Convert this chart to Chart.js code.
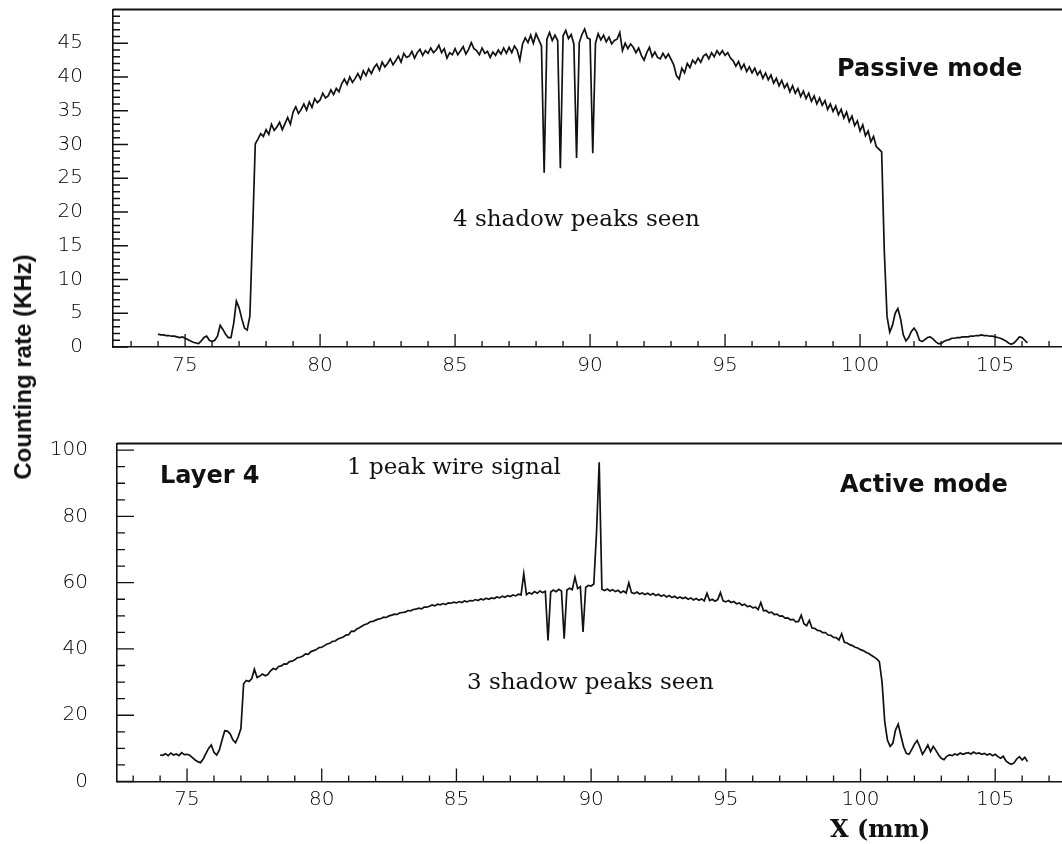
<!DOCTYPE html>
<html>
<head>
<meta charset="utf-8">
<title>Counting rate vs X</title>
<script src="https://cdn.jsdelivr.net/npm/chart.js@4.4.1/dist/chart.umd.min.js"></script>
<style>
  html, body { margin: 0; padding: 0; background: #fff; }
  #page { position: relative; width: 1062px; height: 844px; overflow: hidden; background: #fff; }
  .panel { position: absolute; left: 0; width: 1062px; }
  #topPanel { top: 0; height: 395px; }
  #bottomPanel { top: 430px; height: 414px; }
  .note { position: absolute; white-space: nowrap; line-height: 1; color: #111; z-index: 2; }
  .mode { font-family: "DejaVu Sans", sans-serif; font-weight: bold; font-size: 24px; }
  .serif { font-family: "DejaVu Serif", serif; font-size: 23px; }
  .xtitle { font-family: "DejaVu Serif", serif; font-weight: bold; font-size: 24px; }
  .ytitle { font-family: "Liberation Sans", Arial, sans-serif; font-weight: bold; font-size: 24px;
            transform: translate(-50%, -50%) rotate(-90deg); }
</style>
</head>
<body>
<div id="page">
  <div class="panel" id="topPanel"><canvas id="passiveChart"></canvas></div>
  <div class="panel" id="bottomPanel"><canvas id="activeChart"></canvas></div>

  <div class="note ytitle" style="left:23px; top:367px;">Counting rate (KHz)</div>
  <div class="note mode" style="left:837px; top:56px;">Passive mode</div>
  <div class="note serif" style="left:453px; top:207px;">4 shadow peaks seen</div>
  <div class="note mode" style="left:160px; top:463px;">Layer 4</div>
  <div class="note serif" style="left:347px; top:455px;">1 peak wire signal</div>
  <div class="note mode" style="left:840px; top:472px;">Active mode</div>
  <div class="note serif" style="left:467px; top:670px;">3 shadow peaks seen</div>
  <div class="note xtitle" style="left:830px; top:817px;">X (mm)</div>
</div>

<script>
// 1. DATA (X in mm, rate in kHz)
const xMm = [
  74.0,74.1,74.2,74.3,74.4,74.5,74.6,74.7,74.8,74.9,
  75.0,75.1,75.2,75.3,75.4,75.5,75.6,75.7,75.8,75.9,
  76.0,76.1,76.2,76.3,76.4,76.5,76.6,76.7,76.8,76.9,
  77.0,77.1,77.2,77.3,77.4,77.5,77.6,77.7,77.8,77.9,
  78.0,78.1,78.2,78.3,78.4,78.5,78.6,78.7,78.8,78.9,
  79.0,79.1,79.2,79.3,79.4,79.5,79.6,79.7,79.8,79.9,
  80.0,80.1,80.2,80.3,80.4,80.5,80.6,80.7,80.8,80.9,
  81.0,81.1,81.2,81.3,81.4,81.5,81.6,81.7,81.8,81.9,
  82.0,82.1,82.2,82.3,82.4,82.5,82.6,82.7,82.8,82.9,
  83.0,83.1,83.2,83.3,83.4,83.5,83.6,83.7,83.8,83.9,
  84.0,84.1,84.2,84.3,84.4,84.5,84.6,84.7,84.8,84.9,
  85.0,85.1,85.2,85.3,85.4,85.5,85.6,85.7,85.8,85.9,
  86.0,86.1,86.2,86.3,86.4,86.5,86.6,86.7,86.8,86.9,
  87.0,87.1,87.2,87.3,87.4,87.5,87.6,87.7,87.8,87.9,
  88.0,88.1,88.2,88.3,88.4,88.5,88.6,88.7,88.8,88.9,
  89.0,89.1,89.2,89.3,89.4,89.5,89.6,89.7,89.8,89.9,
  90.0,90.1,90.2,90.3,90.4,90.5,90.6,90.7,90.8,90.9,
  91.0,91.1,91.2,91.3,91.4,91.5,91.6,91.7,91.8,91.9,
  92.0,92.1,92.2,92.3,92.4,92.5,92.6,92.7,92.8,92.9,
  93.0,93.1,93.2,93.3,93.4,93.5,93.6,93.7,93.8,93.9,
  94.0,94.1,94.2,94.3,94.4,94.5,94.6,94.7,94.8,94.9,
  95.0,95.1,95.2,95.3,95.4,95.5,95.6,95.7,95.8,95.9,
  96.0,96.1,96.2,96.3,96.4,96.5,96.6,96.7,96.8,96.9,
  97.0,97.1,97.2,97.3,97.4,97.5,97.6,97.7,97.8,97.9,
  98.0,98.1,98.2,98.3,98.4,98.5,98.6,98.7,98.8,98.9,
  99.0,99.1,99.2,99.3,99.4,99.5,99.6,99.7,99.8,99.9,
  100.0,100.1,100.2,100.3,100.4,100.5,100.6,100.7,100.8,100.9,
  101.0,101.1,101.2,101.3,101.4,101.5,101.6,101.7,101.8,101.9,
  102.0,102.1,102.2,102.3,102.4,102.5,102.6,102.7,102.8,102.9,
  103.0,103.1,103.2,103.3,103.4,103.5,103.6,103.7,103.8,103.9,
  104.0,104.1,104.2,104.3,104.4,104.5,104.6,104.7,104.8,104.9,
  105.0,105.1,105.2,105.3,105.4,105.5,105.6,105.7,105.8,105.9,
  106.0,106.1,106.2
];

// Passive mode: 4 shadow dips near 88.3 - 90.1 mm
const passiveRate = [
  1.9,1.8,1.8,1.7,1.7,1.6,1.6,1.5,1.4,1.5,
  1.3,1.1,0.9,0.7,0.6,0.5,0.9,1.4,1.6,1.0,
  0.8,1.0,1.6,3.2,2.6,1.9,1.4,1.4,3.5,6.8,
  5.8,4.2,2.8,2.5,4.6,17.0,30.1,30.8,31.6,31.2,
  32.2,31.5,33.0,32.1,32.6,33.3,32.2,33.1,34.0,33.0,
  34.8,35.6,34.6,35.2,36.0,35.1,36.3,35.5,36.8,36.2,
  36.6,37.6,36.9,37.2,38.1,37.4,38.3,37.8,39.0,39.7,
  38.9,40.0,39.2,39.8,40.5,39.7,40.9,40.2,41.2,40.5,
  41.4,41.9,41.0,42.2,41.5,42.0,42.7,41.8,42.4,43.1,
  42.2,43.5,42.9,43.1,43.8,42.8,43.6,44.1,43.2,43.9,
  43.5,44.3,43.6,44.0,44.7,43.6,44.2,42.8,43.6,43.3,
  44.2,43.3,43.9,44.5,43.4,44.1,45.1,44.2,43.9,43.3,
  44.3,43.5,43.8,42.9,43.7,43.2,44.0,43.4,44.3,43.5,
  44.4,43.6,44.6,44.0,42.5,44.9,45.8,45.1,46.2,45.0,
  46.4,45.5,44.6,25.8,45.6,46.6,45.4,46.2,45.4,26.5,
  46.1,46.9,45.7,46.3,44.9,28.0,45.1,46.3,47.1,45.8,
  45.6,28.7,45.0,46.4,45.5,46.2,45.2,45.9,44.9,45.4,
  45.6,46.6,43.9,45.0,44.2,44.9,44.4,43.6,44.3,43.2,
  42.5,43.6,44.4,43.0,43.7,42.9,42.7,43.5,42.8,43.4,
  42.6,41.8,40.2,39.7,41.3,40.6,42.0,41.4,42.5,42.0,
  42.8,42.2,43.1,43.4,42.7,43.6,43.0,43.9,43.3,43.9,
  43.2,43.6,42.8,42.4,41.6,42.3,41.2,41.9,40.8,41.5,
  40.6,41.3,40.3,40.9,39.8,40.6,39.6,40.3,39.1,39.8,
  38.7,39.5,38.4,39.0,37.8,38.7,37.6,38.3,37.1,37.9,
  36.8,37.6,36.4,37.2,36.0,36.9,35.8,36.5,35.2,36.0,
  34.9,35.7,34.4,35.2,33.9,34.8,33.4,34.2,32.8,33.5,
  32.0,32.9,31.3,32.0,30.4,31.2,29.7,29.3,28.9,14.0,
  4.5,2.2,3.2,5.0,5.7,4.2,1.8,0.9,1.4,2.3,
  2.8,2.2,1.0,0.8,1.1,1.4,1.5,1.2,0.8,0.5,
  0.5,0.8,1.0,1.1,1.3,1.3,1.4,1.4,1.5,1.5,
  1.5,1.6,1.6,1.7,1.7,1.8,1.7,1.7,1.6,1.6,
  1.5,1.4,1.3,1.1,0.9,0.6,0.4,0.6,1.0,1.5,
  1.4,1.0,0.6
];

// Active mode: 3 shadow dips + wire peak at 90.3 mm
const activeRate = [
  8.0,7.9,8.4,7.8,8.6,8.0,8.3,7.8,8.7,8.1,
  8.2,7.9,7.2,6.5,6.0,5.7,6.8,8.4,10.0,11.0,
  8.8,8.0,9.5,12.5,15.3,15.2,14.4,12.6,11.7,13.5,
  16.0,29.5,30.5,30.2,31.0,33.9,31.4,31.8,32.4,31.9,
  32.3,33.4,34.1,33.8,34.7,34.9,35.5,35.4,36.2,36.3,
  36.7,37.4,37.5,37.9,38.5,38.4,39.2,39.5,39.8,40.4,
  40.5,41.0,41.5,41.7,42.3,42.4,43.0,43.3,43.6,44.2,
  44.3,45.4,45.3,46.0,46.4,46.9,47.4,47.6,48.2,48.3,
  48.7,49.0,49.2,49.6,49.5,50.0,50.2,50.5,50.4,50.9,
  51.0,51.1,51.6,51.5,51.9,52.0,52.3,52.1,52.6,52.6,
  52.9,53.3,53.0,53.5,53.3,53.7,53.4,53.9,53.8,54.1,
  53.9,54.3,54.0,54.5,54.2,54.6,54.5,54.9,54.6,55.1,
  54.8,55.3,55.0,55.4,55.2,55.7,55.4,55.9,55.6,56.1,
  55.8,56.3,56.0,56.5,56.3,62.7,56.4,57.0,56.6,57.3,
  56.8,57.5,57.0,57.4,42.6,57.2,57.8,57.3,58.0,57.5,
  43.1,57.8,58.3,57.9,61.7,58.2,58.8,45.1,58.6,59.2,
  59.0,59.6,75.0,96.3,58.0,57.6,58.1,57.5,57.9,57.3,
  57.7,57.0,57.5,56.9,60.0,57.0,56.7,57.2,56.6,56.9,
  56.4,56.8,56.3,56.7,56.1,56.5,55.9,56.3,55.7,56.1,
  55.5,55.9,55.3,55.7,55.2,55.6,55.0,55.4,54.8,55.2,
  54.7,55.1,54.5,56.8,54.6,55.0,54.4,54.9,57.0,54.5,
  54.2,54.6,54.0,54.3,53.6,53.9,53.2,53.5,52.8,53.0,
  52.4,52.6,51.9,54.0,51.5,51.6,50.9,51.1,50.4,50.5,
  49.9,50.0,49.3,49.4,48.8,48.9,48.2,48.3,50.2,47.6,
  47.0,48.6,46.3,46.2,45.6,45.5,44.9,44.9,44.2,44.1,
  43.5,43.4,42.7,44.6,42.0,41.8,41.3,41.0,40.5,40.3,
  39.8,39.5,39.0,38.6,38.1,37.6,37.0,36.2,30.0,18.0,
  12.5,10.6,11.5,15.5,17.3,13.8,10.5,8.5,8.2,9.6,
  11.2,12.4,10.5,8.2,9.5,11.0,9.0,10.6,9.4,8.0,
  7.0,6.6,7.6,8.0,7.8,8.3,8.0,8.6,8.2,8.5,
  8.7,8.3,8.9,8.4,8.6,8.2,8.5,8.0,8.4,7.8,
  8.2,7.5,7.0,7.6,6.2,5.6,5.2,5.6,6.8,7.5,
  6.5,7.3,6.0
];

const xTickLabels = [75, 80, 85, 90, 95, 100, 105];
const passiveYLabels = [0, 5, 10, 15, 20, 25, 30, 35, 40, 45];
const activeYLabels = [0, 20, 40, 60, 80, 100];

// 2. INWARD TICKS + TOP FRAME LINE
const frameTicks = {
  id: 'frameTicks',
  afterDraw(chart, args, o) {
    const { ctx, chartArea: a, scales: { x, y } } = chart;
    ctx.save();
    ctx.strokeStyle = '#111';
    ctx.lineWidth = 1.3;
    ctx.beginPath();
    x.ticks.forEach(t => {
      const px = x.getPixelForValue(t.value);
      const len = t.value % 5 === 0 ? o.xMajor : o.xMinor;
      ctx.moveTo(px, a.bottom);
      ctx.lineTo(px, a.bottom - len);
    });
    y.ticks.forEach(t => {
      if (t.value >= y.max) return;
      const py = y.getPixelForValue(t.value);
      const len = t.value % o.yMajorStep === 0 ? o.yMajor : o.yMinor;
      ctx.moveTo(a.left, py);
      ctx.lineTo(a.left + len, py);
    });
    ctx.stroke();
    ctx.lineWidth = 1.8;
    ctx.beginPath();
    ctx.moveTo(a.left, a.top);
    ctx.lineTo(a.right, a.top);
    ctx.stroke();
    ctx.restore();
  }
};

const tickFont = { family: '"DejaVu Sans", sans-serif', size: 20, weight: 200 };

function panel(canvasId, rate, s) {
  return new Chart(document.getElementById(canvasId), {
    type: 'line',
    data: {
      datasets: [{
        data: xMm.map((x, i) => ({ x: x, y: rate[i] })),
        borderColor: '#111',
        borderWidth: 1.7,
        pointRadius: 0,
        tension: 0,
        fill: false
      }]
    },
    options: {
      responsive: true,
      maintainAspectRatio: false,
      animation: false,
      events: [],
      layout: { padding: { top: s.padTop, left: 0, right: 0, bottom: 0 } },
      plugins: { legend: { display: false }, tooltip: { enabled: false }, frameTicks: s.ticks },
      scales: {
        x: {
          type: 'linear', min: s.xMin, max: 107.48,
          afterFit: sc => { sc.height = s.xAxisHeight; sc.paddingLeft = 0; sc.paddingRight = 0; },
          grid: { display: false, drawTicks: false },
          border: { display: true, color: '#111', width: 1.6 },
          ticks: {
            stepSize: 1, autoSkip: false, maxRotation: 0, minRotation: 0, includeBounds: false,
            padding: s.xPad, color: '#000', font: tickFont,
            callback: v => xTickLabels.includes(v) ? String(v) : ''
          }
        },
        y: {
          type: 'linear', min: 0, max: s.yMax,
          afterFit: sc => { sc.width = s.yAxisWidth; sc.paddingTop = 0; sc.paddingBottom = 0; },
          grid: { display: false, drawTicks: false },
          border: { display: true, color: '#111', width: 1.6 },
          ticks: {
            stepSize: s.yStep, autoSkip: false, includeBounds: false,
            padding: s.yPad, color: '#000', font: tickFont,
            callback: v => s.yLabels.includes(v) ? String(v) : ''
          }
        }
      }
    },
    plugins: [frameTicks]
  });
}

// 3. THE TWO PANELS
panel('passiveChart', passiveRate, {
  padTop: 9.5, xAxisHeight: 48, yAxisWidth: 113, xMin: 72.33,
  yMax: 50, yStep: 1, yLabels: passiveYLabels, xPad: 7, yPad: 30,
  ticks: { xMajor: 13, xMinor: 6, yMajor: 15, yMinor: 7, yMajorStep: 5 }
});

panel('activeChart', activeRate, {
  padTop: 13.5, xAxisHeight: 62.5, yAxisWidth: 117, xMin: 72.4,
  yMax: 102, yStep: 5, yLabels: activeYLabels, xPad: 6, yPad: 29,
  ticks: { xMajor: 13, xMinor: 6, yMajor: 17, yMinor: 8, yMajorStep: 20 }
});
</script>
</body>
</html>
